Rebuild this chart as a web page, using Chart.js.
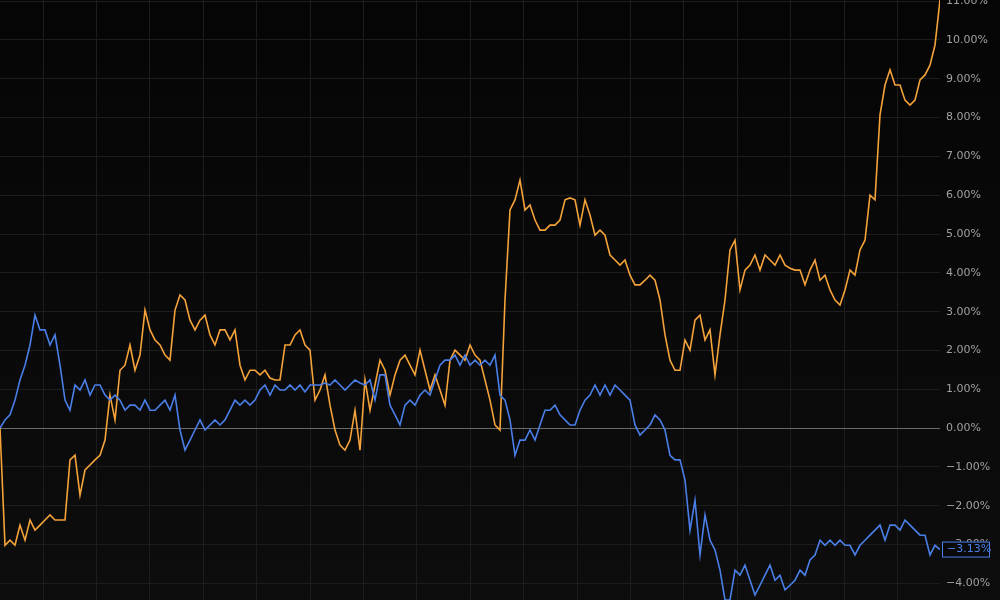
<!DOCTYPE html>
<html>
<head>
<meta charset="utf-8">
<script src="https://cdn.jsdelivr.net/npm/chart.js@4"></script>
<style>
  html, body { margin: 0; padding: 0; background: #070707; }
  #wrap { width: 1000px; height: 600px; }
</style>
</head>
<body>
<div id="wrap"><canvas id="chart"></canvas></div>
<script>
var orangeValues = [0, -3.02, -2.89, -3.02, -2.50, -2.89, -2.37, -2.63, -2.50, -2.37, -2.24, -2.37, -2.37, -2.37,
  -0.82, -0.70, -1.73, -1.08, -0.95, -0.82, -0.70, -0.31, 0.85, 0.21, 1.49, 1.62, 2.14, 1.49, 1.88, 3.04,
  2.53, 2.27, 2.14, 1.88, 1.75, 3.04, 3.43, 3.30, 2.78, 2.53, 2.78, 2.91, 2.40, 2.14, 2.53, 2.53, 2.27, 2.53,
  1.62, 1.24, 1.49, 1.49, 1.37, 1.49, 1.29, 1.24, 1.24, 2.14, 2.14, 2.40, 2.53, 2.14, 2.01, 0.72, 0.98, 1.37,
  0.59, -0.05, -0.44, -0.57, -0.31, 0.46, -0.57, 1.24, 0.46, 1.11, 1.75, 1.49, 0.85, 1.37, 1.75, 1.88, 1.62,
  1.37, 2.01, 1.49, 0.98, 1.37, 0.98, 0.59, 1.75, 2.01, 1.88, 1.75, 2.14, 1.88, 1.75, 1.24, 0.72, 0.08, -0.05,
  3.30, 5.62, 5.88, 6.39, 5.62, 5.75, 5.36, 5.10, 5.10, 5.23, 5.23, 5.36, 5.88, 5.93, 5.88, 5.23, 5.88, 5.49,
  4.97, 5.10, 4.97, 4.46, 4.33, 4.20, 4.33, 3.94, 3.69, 3.69, 3.81, 3.94, 3.81, 3.30, 2.40, 1.75, 1.49, 1.49,
  2.27, 2.01, 2.78, 2.91, 2.27, 2.53, 1.37, 2.40, 3.30, 4.59, 4.84, 3.56, 4.07, 4.20, 4.46, 4.07, 4.46, 4.33,
  4.20, 4.46, 4.20, 4.12, 4.07, 4.07, 3.69, 4.07, 4.33, 3.81, 3.94, 3.56, 3.30, 3.17, 3.56, 4.07, 3.94, 4.59,
  4.84, 6.00, 5.88, 8.07, 8.84, 9.23, 8.84, 8.84, 8.45, 8.32, 8.45, 8.97, 9.10, 9.35, 9.87, 11.03];

var blueValues = [0, 0.21, 0.34, 0.72, 1.24, 1.62, 2.14, 2.91, 2.53, 2.53, 2.14, 2.40, 1.62, 0.72, 0.46, 1.11,
  0.98, 1.24, 0.85, 1.11, 1.11, 0.85, 0.72, 0.85, 0.72, 0.46, 0.59, 0.59, 0.46, 0.72, 0.46, 0.46, 0.59, 0.72,
  0.46, 0.85, -0.05, -0.57, -0.31, -0.05, 0.21, -0.05, 0.08, 0.21, 0.08, 0.21, 0.46, 0.72, 0.59, 0.72, 0.59,
  0.72, 0.98, 1.11, 0.85, 1.11, 0.98, 0.98, 1.11, 0.98, 1.11, 0.93, 1.11, 1.11, 1.11, 1.16, 1.11, 1.24, 1.11,
  0.98, 1.11, 1.24, 1.16, 1.11, 1.24, 0.72, 1.37, 1.37, 0.59, 0.34, 0.08, 0.59, 0.72, 0.59, 0.85, 0.98, 0.85,
  1.24, 1.62, 1.75, 1.75, 1.88, 1.62, 1.88, 1.62, 1.75, 1.62, 1.75, 1.62, 1.88, 0.85, 0.72, 0.21, -0.70, -0.31,
  -0.31, -0.05, -0.31, 0.08, 0.46, 0.46, 0.59, 0.34, 0.21, 0.08, 0.08, 0.46, 0.72, 0.85, 1.11, 0.85, 1.11, 0.85,
  1.11, 0.98, 0.85, 0.72, 0.08, -0.18, -0.05, 0.08, 0.34, 0.21, -0.05, -0.70, -0.82, -0.82, -1.34, -2.63, -1.86,
  -3.27, -2.24, -2.89, -3.14, -3.66, -4.43, -4.43, -3.66, -3.79, -3.53, -3.92, -4.30, -4.05, -3.79, -3.53, -3.92,
  -3.79, -4.17, -4.05, -3.92, -3.66, -3.79, -3.40, -3.27, -2.89, -3.02, -2.89, -3.02, -2.89, -3.02, -3.02, -3.27,
  -3.02, -2.89, -2.76, -2.63, -2.50, -2.89, -2.50, -2.50, -2.63, -2.37, -2.50, -2.63, -2.76, -2.76, -3.27, -3.02, -3.13];

var orangeColor = "#f4a23a";
var blueColor = "#4a7fe8";
var gridStep = 10.68;
var gridStart = 8.6;

var labels = orangeValues.map(function (v, i) { return i; });

function fmtPct(v) {
    var s = Math.abs(v).toFixed(2) + "%";
    return v < 0 ? "\u2212" + s : s;
}

var bgPlugin = {
    id: "bg",
    beforeDraw: function (chart) {
        var c = chart.ctx;
        var g = c.createLinearGradient(0, 0, 0, chart.height);
        g.addColorStop(0, "#050505");
        g.addColorStop(1, "#0d0d0d");
        c.save();
        c.fillStyle = g;
        c.fillRect(0, 0, chart.width, chart.height);
        c.restore();
    },
};

var lastLabelPlugin = {
    id: "lastLabel",
    afterDraw: function (chart) {
        var c = chart.ctx;
        var y = chart.scales.y.getPixelForValue(blueValues[blueValues.length - 1]);
        var x = chart.chartArea.right + 2;
        c.save();
        c.fillStyle = "#0a0a0a";
        c.fillRect(x, y - 8, 47, 15);
        c.strokeStyle = blueColor;
        c.lineWidth = 1;
        c.strokeRect(x + 0.5, y - 7.5, 47, 15);
        c.fillStyle = blueColor;
        c.font = "11px 'DejaVu Sans'";
        c.textBaseline = "middle";
        c.fillText(fmtPct(blueValues[blueValues.length - 1]), x + 5, y);
        c.restore();
    },
};

var chart = new Chart(document.getElementById("chart"), {
    type: "line",
    data: {
        labels: labels,
        datasets: [
            { data: blueValues, borderColor: blueColor, borderWidth: 1.6, pointRadius: 0, tension: 0 },
            { data: orangeValues, borderColor: orangeColor, borderWidth: 1.6, pointRadius: 0, tension: 0 },
        ],
    },
    options: {
        responsive: true,
        maintainAspectRatio: false,
        animation: false,
        layout: { padding: 0 },
        plugins: { legend: { display: false }, tooltip: { enabled: false } },
        scales: {
            x: {
                type: "linear",
                min: 0,
                max: orangeValues.length - 1,
                afterBuildTicks: function (axis) {
                    var t = [];
                    for (var v = gridStart; v < axis.max; v += gridStep) t.push({ value: v });
                    axis.ticks = t;
                },
                afterFit: function (axis) { axis.height = 0; axis.paddingLeft = 0; axis.paddingRight = 0; },
                ticks: { display: false },
                grid: { color: "#1d1d1d", drawTicks: false },
                border: { display: false },
            },
            y: {
                position: "right",
                min: -4.43,
                max: 11.03,
                afterBuildTicks: function (axis) {
                    var t = [];
                    for (var v = -4; v <= 11; v++) t.push({ value: v });
                    axis.ticks = t;
                },
                afterFit: function (axis) { axis.width = 60; axis.paddingTop = 0; axis.paddingBottom = 0; },
                ticks: {
                    color: "#a0a0a0",
                    font: { family: "'DejaVu Sans'", size: 11 },
                    padding: 6,
                    callback: function (v) { return fmtPct(v); },
                },
                grid: {
                    drawTicks: false,
                    color: function (ctx) { return ctx.tick && ctx.tick.value === 0 ? "#6a6a6a" : "#1d1d1d"; },
                },
                border: { display: false },
            },
        },
    },
    plugins: [bgPlugin, lastLabelPlugin],
});
</script>
</body>
</html>
